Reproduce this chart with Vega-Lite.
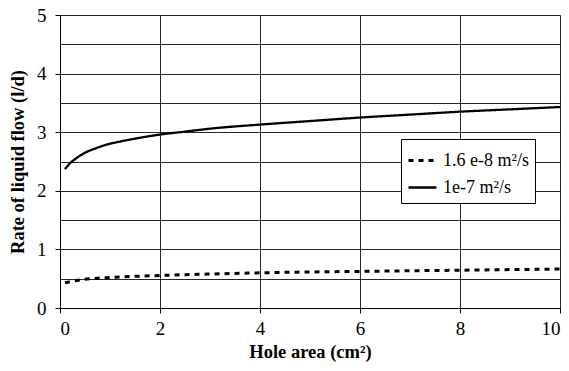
{
  "$schema": "https://vega.github.io/schema/vega-lite/v6.json",
  "width": 500,
  "height": 293,
  "autosize": {"type": "none"},
  "padding": {"left": 60, "top": 15, "right": 9, "bottom": 63},
  "background": "white",
  "config": {
    "view": {"stroke": null},
    "font": "Liberation Serif",
    "axis": {
      "labelFont": "Liberation Serif",
      "titleFont": "Liberation Serif",
      "labelFontSize": 19,
      "titleFontSize": 18.5,
      "titleFontWeight": "bold",
      "labelColor": "black",
      "titleColor": "black",
      "domainColor": "black",
      "tickColor": "black",
      "gridColor": "black",
      "gridOpacity": 0.85,
      "domainWidth": 1,
      "tickSize": 5
    },
    "legend": {"labelFont": "Liberation Serif"}
  },
  "data": {
    "values": [
      {"x": 0.1, "y": 0.43, "series": "1.6 e-8 m²/s"},
      {"x": 0.2, "y": 0.45, "series": "1.6 e-8 m²/s"},
      {"x": 0.3, "y": 0.465, "series": "1.6 e-8 m²/s"},
      {"x": 0.5, "y": 0.49, "series": "1.6 e-8 m²/s"},
      {"x": 0.7, "y": 0.505, "series": "1.6 e-8 m²/s"},
      {"x": 1, "y": 0.52, "series": "1.6 e-8 m²/s"},
      {"x": 1.5, "y": 0.54, "series": "1.6 e-8 m²/s"},
      {"x": 2, "y": 0.555, "series": "1.6 e-8 m²/s"},
      {"x": 3, "y": 0.58, "series": "1.6 e-8 m²/s"},
      {"x": 4, "y": 0.6, "series": "1.6 e-8 m²/s"},
      {"x": 5, "y": 0.615, "series": "1.6 e-8 m²/s"},
      {"x": 6, "y": 0.625, "series": "1.6 e-8 m²/s"},
      {"x": 7, "y": 0.635, "series": "1.6 e-8 m²/s"},
      {"x": 8, "y": 0.645, "series": "1.6 e-8 m²/s"},
      {"x": 9, "y": 0.655, "series": "1.6 e-8 m²/s"},
      {"x": 10, "y": 0.665, "series": "1.6 e-8 m²/s"},
      {"x": 0.1, "y": 2.37, "series": "1e-7 m²/s"},
      {"x": 0.2, "y": 2.47, "series": "1e-7 m²/s"},
      {"x": 0.3, "y": 2.54, "series": "1e-7 m²/s"},
      {"x": 0.4, "y": 2.6, "series": "1e-7 m²/s"},
      {"x": 0.5, "y": 2.65, "series": "1e-7 m²/s"},
      {"x": 0.7, "y": 2.72, "series": "1e-7 m²/s"},
      {"x": 0.9, "y": 2.78, "series": "1e-7 m²/s"},
      {"x": 1.2, "y": 2.84, "series": "1e-7 m²/s"},
      {"x": 1.5, "y": 2.89, "series": "1e-7 m²/s"},
      {"x": 2, "y": 2.96, "series": "1e-7 m²/s"},
      {"x": 2.5, "y": 3.01, "series": "1e-7 m²/s"},
      {"x": 3, "y": 3.06, "series": "1e-7 m²/s"},
      {"x": 4, "y": 3.13, "series": "1e-7 m²/s"},
      {"x": 5, "y": 3.19, "series": "1e-7 m²/s"},
      {"x": 6, "y": 3.25, "series": "1e-7 m²/s"},
      {"x": 7, "y": 3.3, "series": "1e-7 m²/s"},
      {"x": 8, "y": 3.35, "series": "1e-7 m²/s"},
      {"x": 9, "y": 3.39, "series": "1e-7 m²/s"},
      {"x": 10, "y": 3.43, "series": "1e-7 m²/s"}
    ]
  },
  "mark": {"type": "line", "color": "black", "interpolate": "monotone"},
  "encoding": {
    "x": {
      "field": "x",
      "type": "quantitative",
      "scale": {"domain": [0, 10], "nice": false},
      "axis": {
        "title": "Hole area (cm²)",
        "values": [0, 2, 4, 6, 8, 10],
        "format": "d",
        "grid": true,
        "labelPadding": 6,
        "titlePadding": 4
      }
    },
    "y": {
      "field": "y",
      "type": "quantitative",
      "scale": {"domain": [0, 5], "nice": false},
      "axis": {
        "title": "Rate of liquid flow (l/d)",
        "values": [0, 0.5, 1, 1.5, 2, 2.5, 3, 3.5, 4, 4.5, 5],
        "labelExpr": "datum.value % 1 === 0 ? format(datum.value, 'd') : ''",
        "tickOpacity": {"condition": {"test": "datum.value % 1 !== 0", "value": 0}, "value": 1},
        "grid": true,
        "labelPadding": 9,
        "titlePadding": 9
      }
    },
    "strokeDash": {
      "field": "series",
      "type": "nominal",
      "scale": {"domain": ["1.6 e-8 m²/s", "1e-7 m²/s"], "range": [[5, 5], [1, 0]]},
      "legend": {
        "title": null,
        "orient": "none",
        "legendX": 341,
        "legendY": 124,
        "strokeColor": "black",
        "fillColor": "white",
        "padding": 6,
        "symbolType": "stroke",
        "symbolSize": 784,
        "symbolStrokeWidth": 2.5,
        "symbolStrokeColor": "black",
        "labelFontSize": 18,
        "labelColor": "black",
        "rowPadding": 2,
        "labelOffset": 5,
        "cornerRadius": 0
      }
    },
    "strokeWidth": {
      "field": "series",
      "type": "nominal",
      "scale": {"domain": ["1.6 e-8 m²/s", "1e-7 m²/s"], "range": [3, 2.3]},
      "legend": null
    }
  }
}
